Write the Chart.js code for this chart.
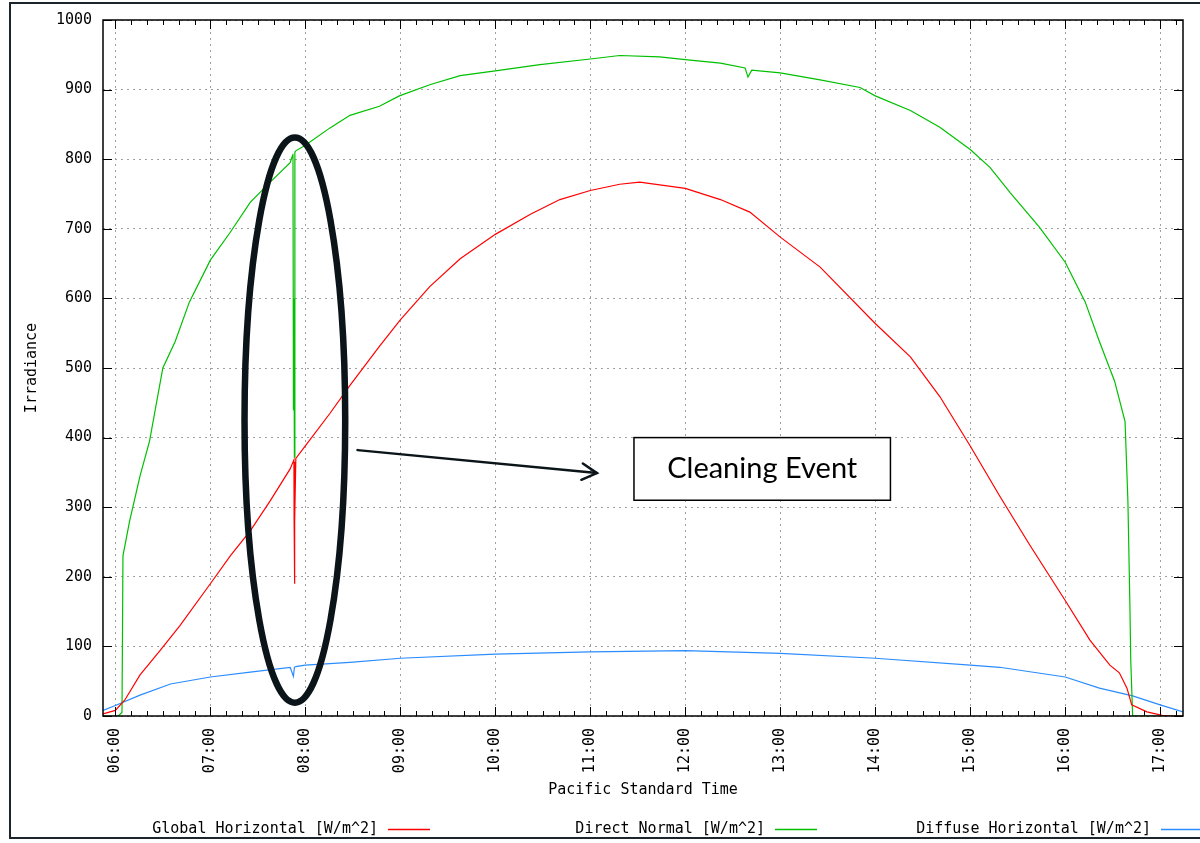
<!DOCTYPE html>
<html lang="en">
<head>
<meta charset="utf-8">
<title>Irradiance - Cleaning Event</title>
<script src="https://cdn.jsdelivr.net/npm/chart.js@4.4.0/dist/chart.umd.min.js"></script>
<style>
  html,body{margin:0;padding:0;background:#fff;}
  #wrap{width:1200px;height:843px;}
</style>
</head>
<body>
<div id="wrap"><canvas id="irr" width="1200" height="843"></canvas></div>
<script>
/* ---- data (time in decimal hours, PST) ---- */
const hourTicks = [6,7,8,9,10,11,12,13,14,15,16,17];
const yTicks    = [0,100,200,300,400,500,600,700,800,900,1000];

const ghTime = [5.87,6.0,6.1,6.26,6.47,6.68,7.0,7.21,7.42,7.63,7.84,7.88,7.882,7.885,7.888,7.89,7.9,8.0,8.26,8.47,
                8.78,9.0,9.31,9.63,10.0,10.37,10.68,11.0,11.31,11.52,12.0,12.37,12.68,13.0,13.42,14.0,14.37,14.68,15.0,15.31,
                15.63,16.0,16.26,16.47,16.57,16.65,16.7,16.86,17.02,17.1,17.24];
const ghVal  = [3,8,23,59,94,130,190,230,266,309,355,368,280,365,190,280,370,388,435,475,
                531,569,617,657,692,721,742,755,764,767,758,742,724,688,645,564,516,459,388,316,
                245,166,109,73,62,40,16,6,1,0,0];

const dnTime = [5.87,6.03,6.07,6.08,6.15,6.26,6.36,6.50,6.63,6.78,7.00,7.21,7.42,7.63,7.84,7.865,7.87,7.875,7.88,7.885,
                7.89,7.90,8.00,8.26,8.47,8.78,8.99,9.31,9.63,10.0,10.47,11.0,11.31,11.73,12.0,12.37,12.63,12.66,12.70,13.0,
                13.42,13.84,14.0,14.37,14.68,15.0,15.21,15.42,15.73,16.0,16.21,16.36,16.52,16.63,16.66,16.68,16.69,16.71,17.24];
const dnVal  = [0,0,5,230,280,345,395,500,538,595,655,695,738,767,795,805,808,440,600,372,
                810,812,820,845,863,876,891,907,920,927,936,944,949,947,943,938,931,918,928,924,
                914,903,891,870,846,814,788,752,702,652,595,538,481,423,309,166,80,0,0];

const dhTime = [5.87,6.0,6.26,6.58,7.0,7.42,7.84,7.875,7.885,7.9,8.0,8.47,9.0,10.0,11.0,12.0,13.0,14.0,15.0,15.31,
                16.0,16.36,16.71,17.0,17.24];
const dhVal  = [8,15,30,46,56,63,70,57,70,71,73,77,83,89,92,94,90,83,73,70,56,40,29,16,6];

const seriesNames  = ['Global Horizontal [W/m^2]','Direct Normal [W/m^2]','Diffuse Horizontal [W/m^2]'];
const seriesColors = ['#ff0000','#00c000','#2a8cff'];

/* annotation anchors, in data units */
const ringAt   = {t:7.89, v:425, dt:0.53, dv:406};
const arrowAt  = {t0:8.55, v0:382, t1:11.07, v1:349};
const boxAt    = {t0:11.46, t1:14.16, v0:400, v1:310, text:'Cleaning Event'};

const MONO = '"DejaVu Sans Mono", monospace';
const pts = (ts,vs)=> ts.map((t,i)=>({x:t, y:vs[i]}));

/* ---- drawing helpers ---- */
const decor = {
  id:'decor',
  beforeDraw(chart){
    const c = chart.ctx;
    c.save();
    c.fillStyle = '#fff';
    c.fillRect(0,0,chart.width,chart.height);
    c.strokeStyle = '#1c252b';
    c.lineWidth = 2;
    c.strokeRect(10,3,1200,835);
    c.restore();
  },
  afterDatasetsDraw(chart){
    const c = chart.ctx, a = chart.chartArea;
    const xs = chart.scales.x, ys = chart.scales.y;
    c.save();
    c.strokeStyle = '#000';
    c.lineWidth = 1;
    c.beginPath();
    // minor ticks every 10 minutes
    for (let m = Math.ceil(xs.min*6); m <= xs.max*6; m++){
      const px = Math.round(xs.getPixelForValue(m/6)) + 0.5;
      const len = (m % 6 === 0) ? 9 : 5;
      c.moveTo(px, a.bottom); c.lineTo(px, a.bottom - len);
      c.moveTo(px, a.top);    c.lineTo(px, a.top + len);
    }
    yTicks.forEach(v=>{
      const py = Math.round(ys.getPixelForValue(v)) + 0.5;
      c.moveTo(a.left, py);  c.lineTo(a.left + 9, py);
      c.moveTo(a.right, py); c.lineTo(a.right - 9, py);
    });
    c.stroke();
    c.lineWidth = 1.5;
    c.strokeRect(a.left, a.top, a.right - a.left, a.bottom - a.top);
    c.restore();
  },
  afterDraw(chart){
    const c = chart.ctx;
    const xs = chart.scales.x, ys = chart.scales.y;
    c.save();

    // legend: text, then line sample on its right
    const legendRight = [430, 817, 1203];
    c.font = '15px ' + MONO;
    c.textAlign = 'right';
    c.textBaseline = 'middle';
    seriesNames.forEach((name,i)=>{
      const r = legendRight[i];
      c.fillStyle = '#000';
      c.fillText(name, r - 52, 829);
      c.strokeStyle = seriesColors[i];
      c.lineWidth = 1.5;
      c.beginPath(); c.moveTo(r - 42, 829.5); c.lineTo(r, 829.5); c.stroke();
    });

    // ring round the event
    const cx = xs.getPixelForValue(ringAt.t), cy = ys.getPixelForValue(ringAt.v);
    const rx = xs.getPixelForValue(ringAt.t + ringAt.dt) - cx;
    const ry = cy - ys.getPixelForValue(ringAt.v + ringAt.dv);
    c.strokeStyle = '#0b1418';
    c.lineWidth = 6.5;
    c.beginPath(); c.ellipse(cx, cy, rx, ry, 0, 0, Math.PI*2); c.stroke();

    // arrow
    const x0 = xs.getPixelForValue(arrowAt.t0), y0 = ys.getPixelForValue(arrowAt.v0);
    const x1 = xs.getPixelForValue(arrowAt.t1), y1 = ys.getPixelForValue(arrowAt.v1);
    const ang = Math.atan2(y1 - y0, x1 - x0);
    c.lineWidth = 2.5;
    c.lineCap = 'round';
    c.beginPath(); c.moveTo(x0, y0); c.lineTo(x1, y1); c.stroke();
    c.beginPath();
    c.moveTo(x1 - 17*Math.cos(ang - 0.5), y1 - 17*Math.sin(ang - 0.5));
    c.lineTo(x1, y1);
    c.lineTo(x1 - 17*Math.cos(ang + 0.5), y1 - 17*Math.sin(ang + 0.5));
    c.stroke();

    // label box
    const bx0 = xs.getPixelForValue(boxAt.t0), bx1 = xs.getPixelForValue(boxAt.t1);
    const by0 = ys.getPixelForValue(boxAt.v0), by1 = ys.getPixelForValue(boxAt.v1);
    c.fillStyle = '#fff';
    c.fillRect(bx0, by0, bx1 - bx0, by1 - by0);
    c.strokeStyle = '#000';
    c.lineWidth = 1.5;
    c.strokeRect(bx0, by0, bx1 - bx0, by1 - by0);
    c.fillStyle = '#000';
    c.font = '29px Lato, "Open Sans", sans-serif';
    c.textAlign = 'center';
    c.textBaseline = 'middle';
    c.fillText(boxAt.text, (bx0 + bx1)/2, (by0 + by1)/2);
    c.restore();
  }
};

new Chart(document.getElementById('irr'), {
  type:'line',
  data:{
    datasets:[
      {label:seriesNames[0], data:pts(ghTime, ghVal), borderColor:seriesColors[0]},
      {label:seriesNames[1], data:pts(dnTime, dnVal), borderColor:seriesColors[1]},
      {label:seriesNames[2], data:pts(dhTime, dhVal), borderColor:seriesColors[2]}
    ]
  },
  options:{
    responsive:false,
    animation:false,
    elements:{
      line:{borderWidth:1.2, tension:0, fill:false},
      point:{radius:0, hoverRadius:0}
    },
    layout:{padding:{left:0, right:17, top:17, bottom:30}},
    plugins:{legend:{display:false}, tooltip:{enabled:false}},
    scales:{
      x:{
        type:'linear',
        min:5.87, max:17.24,
        afterBuildTicks:s=>{ s.ticks = hourTicks.map(v=>({value:v})); },
        afterFit:s=>{ s.height = 97; },
        ticks:{
          autoSkip:false, minRotation:90, maxRotation:90, padding:12,
          color:'#000', font:{family:MONO, size:15},
          callback:v=> String(v).padStart(2,'0') + ':00'
        },
        grid:{color:'#a0a0a0', lineWidth:1, drawTicks:false},
        border:{display:false, dash:[2,4]},
        title:{display:true, text:'Pacific Standard Time', color:'#000',
               font:{family:MONO, size:15}, padding:{top:0, bottom:14}}
      },
      y:{
        min:0, max:1000,
        afterBuildTicks:s=>{ s.ticks = yTicks.map(v=>({value:v})); },
        afterFit:s=>{ s.width = 103; },
        ticks:{padding:11, color:'#000', font:{family:MONO, size:15},
               callback:v=> String(v)},
        grid:{color:'#a0a0a0', lineWidth:1, drawTicks:false},
        border:{display:false, dash:[2,4]},
        title:{display:true, text:'Irradiance', color:'#000',
               font:{family:MONO, size:15}, padding:{top:23, bottom:0}}
      }
    }
  },
  plugins:[decor]
});
</script>
</body>
</html>
